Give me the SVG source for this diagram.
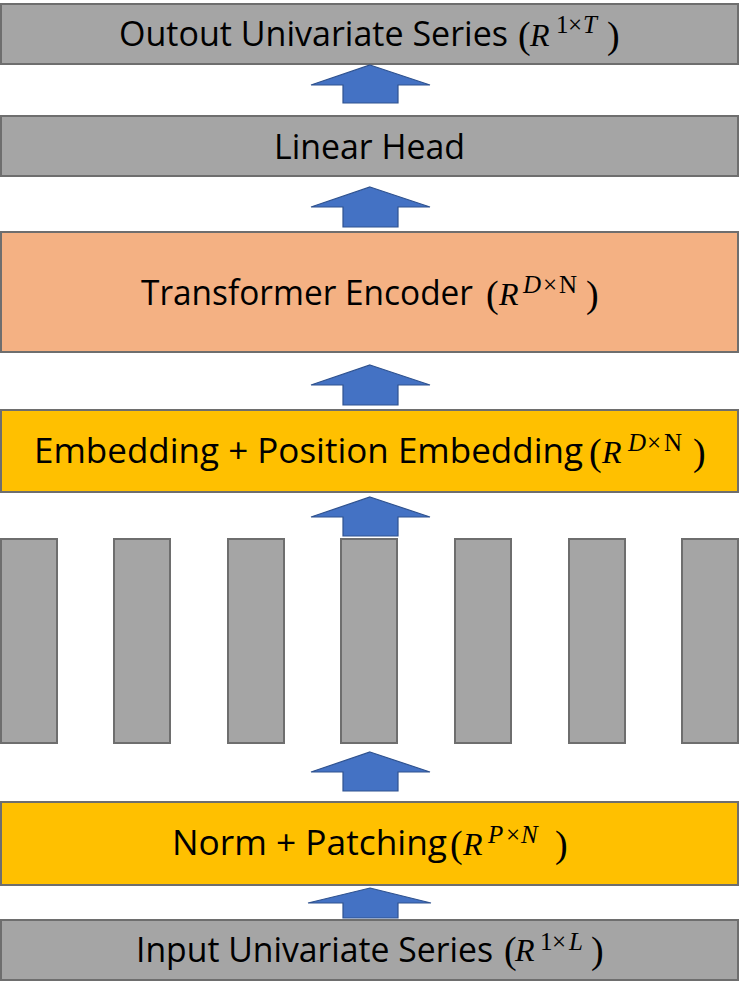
<svg xmlns="http://www.w3.org/2000/svg" width="739" height="995" viewBox="0 0 739 995">
<style>
.box{stroke:#6e6e6e;stroke-width:2}
.gray{fill:#a5a5a5}
.orange{fill:#f4b183}
.yellow{fill:#ffc000}
.arrow{fill:#4472c4;stroke:#2f528f;stroke-width:1.2}
.lbl{font-family:"Open Sans","Noto Sans","DejaVu Sans",sans-serif;font-size:34px;fill:#000}
.m{font-family:"Liberation Serif","DejaVu Serif",serif}
.p{font-size:38px}
.r{font-size:32px;font-style:italic}
.s{font-size:25px}
.i{font-style:italic}
</style>
<rect width="739" height="995" fill="#ffffff"/>

<g id="output">
<rect class="box gray" x="1" y="4" width="737" height="60"/>
<text class="lbl" y="46"><tspan x="119" textLength="389" lengthAdjust="spacingAndGlyphs">Outout Univariate Series</tspan> <tspan class="m p" x="518" y="48">(</tspan><tspan class="m r" x="530" y="46">R</tspan><tspan class="m s" x="556" y="33">1</tspan><tspan class="m s" x="568" y="33">×</tspan><tspan class="m s i" x="583" y="33">T</tspan><tspan class="m p" x="607" y="48">)</tspan></text>
</g>

<g id="linear-head">
<rect class="box gray" x="1" y="116" width="737" height="60"/>
<text class="lbl" y="159"><tspan x="274" textLength="191" lengthAdjust="spacingAndGlyphs">Linear Head</tspan></text>
</g>

<g id="transformer-encoder">
<rect class="box orange" x="1" y="232" width="737" height="120"/>
<text class="lbl" y="305"><tspan x="141" textLength="332" lengthAdjust="spacingAndGlyphs">Transformer Encoder</tspan> <tspan class="m p" x="486" y="307">(</tspan><tspan class="m r" x="499" y="305">R</tspan><tspan class="m s i" x="523" y="293">D</tspan><tspan class="m s" x="543" y="293">×</tspan><tspan class="m s" x="559" y="293">N</tspan><tspan class="m p" x="586" y="307">)</tspan></text>
</g>

<g id="embedding">
<rect class="box yellow" x="1" y="410" width="737" height="82"/>
<text class="lbl" y="463"><tspan x="34" textLength="549" lengthAdjust="spacingAndGlyphs">Embedding + Position Embedding</tspan> <tspan class="m p" x="589" y="465">(</tspan><tspan class="m r" x="602" y="463">R</tspan><tspan class="m s i" x="628" y="451">D</tspan><tspan class="m s" x="647" y="451">×</tspan><tspan class="m s" x="664" y="451">N</tspan><tspan class="m p" x="693" y="465">)</tspan></text>
</g>

<g id="patches">
<rect class="box gray" x="1" y="539" width="56" height="204"/>
<rect class="box gray" x="114" y="539" width="56" height="204"/>
<rect class="box gray" x="228" y="539" width="56" height="204"/>
<rect class="box gray" x="341" y="539" width="56" height="204"/>
<rect class="box gray" x="455" y="539" width="56" height="204"/>
<rect class="box gray" x="569" y="539" width="56" height="204"/>
<rect class="box gray" x="682" y="539" width="56" height="204"/>
</g>

<g id="norm-patching">
<rect class="box yellow" x="1" y="802" width="737" height="83"/>
<text class="lbl" y="855"><tspan x="172" textLength="275" lengthAdjust="spacingAndGlyphs">Norm + Patching</tspan> <tspan class="m p" x="450" y="857">(</tspan><tspan class="m r" x="463" y="855">R</tspan><tspan class="m s i" x="488" y="843">P</tspan><tspan class="m s" x="506" y="843">×</tspan><tspan class="m s i" x="521" y="843">N</tspan><tspan class="m p" x="555" y="857">)</tspan></text>
</g>

<g id="input">
<rect class="box gray" x="1" y="920" width="737" height="60"/>
<text class="lbl" y="962"><tspan x="136" textLength="357" lengthAdjust="spacingAndGlyphs">Input Univariate Series</tspan> <tspan class="m p" x="504" y="963">(</tspan><tspan class="m r" x="515" y="961">R</tspan><tspan class="m s" x="540" y="950">1</tspan><tspan class="m s" x="552" y="950">×</tspan><tspan class="m s i" x="569" y="950">L</tspan><tspan class="m p" x="591" y="963">)</tspan></text>
</g>

<g id="connectors">
<polygon class="arrow" points="370,65 430,85 398,85 398,103 343,103 343,85 311,85"/>
<polygon class="arrow" points="370,187 430,207 398,207 398,227 343,227 343,207 311,207"/>
<polygon class="arrow" points="370,365 430,385 398,385 398,405 343,405 343,385 311,385"/>
<polygon class="arrow" points="370,497 430,517 398,517 398,536 343,536 343,517 311,517"/>
<polygon class="arrow" points="370,752 430,772 398,772 398,791 343,791 343,772 311,772"/>
<polygon class="arrow" points="370,888 431,903 398,903 398,918 343,918 343,903 308,903"/>
</g>
</svg>
